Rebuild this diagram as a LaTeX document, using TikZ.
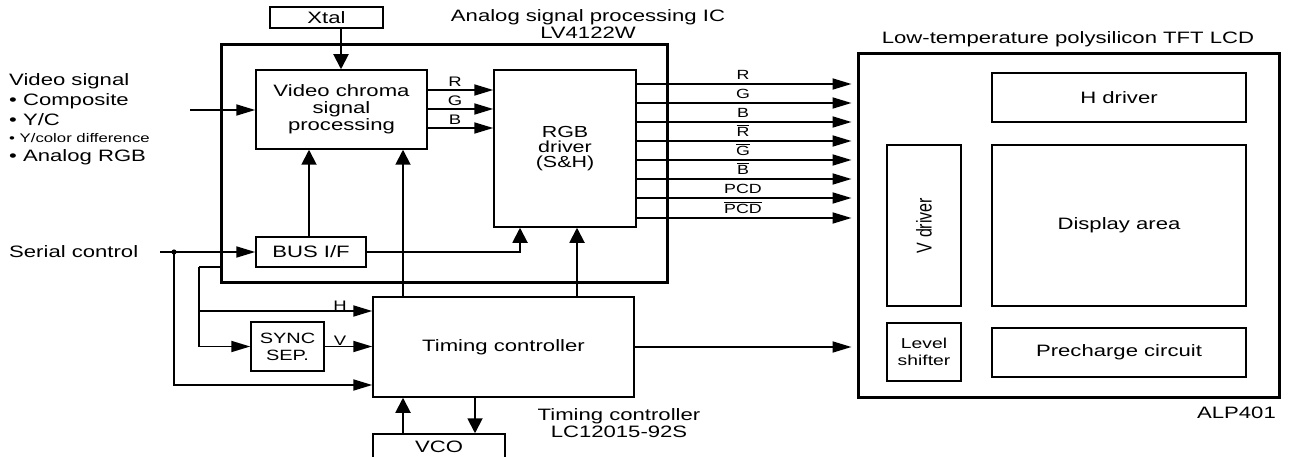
\documentclass[tikz,border=0pt]{standalone}
\usepackage{fontspec}
\setmainfont{Liberation Sans}[FakeStretch=1.34]
\newfontfamily\plainfont{Liberation Sans}
\usetikzlibrary{arrows.meta,calc}
\newcommand\ovl[1]{\vbox{\hrule height 1pt\kern1.6pt\hbox{#1}}}
\tikzset{
  base/.style={font=\fontsize{16.5}{17}\selectfont, align=center, inner sep=0pt},
  box/.style={base, draw, line width=1.5pt},
  big/.style={draw, line width=3pt, inner sep=0pt},
  wire/.style={line width=1.9pt},
  ha/.style={wire, -{Triangle[length=19pt,width=11pt]}},
  va/.style={wire, -{Triangle[length=15pt,width=15pt]}},
  lab/.style={base, font=\fontsize{13.8}{14}\selectfont, anchor=base},
  lbl/.style={base, anchor=base west},
}
\begin{document}
\begin{tikzpicture}[x=1pt,y=-1pt]
\useasboundingbox (0,0) rectangle (1290,457);
% frames
\node[big, minimum width=446pt, minimum height=237pt] (ic) at (444,163.5) {};
\node[big, minimum width=421pt, minimum height=343pt] (lcd) at (1068.5,225.5) {};
% blocks
\node[box, minimum width=113pt, minimum height=21pt] (xtal) at (326.5,17.5) {Xtal};
\node[box, minimum width=171pt, minimum height=79pt] (vcp) at (341.5,109.5) {Video chroma\\signal\\processing};
\node[box, minimum width=142pt, minimum height=157pt, font=\fontsize{16}{15}\selectfont] (rgb) at (565,148.5) {RGB\\driver\\(S\&H)};
\node[box, minimum width=110pt, minimum height=30pt] (bus) at (311,252) {BUS I/F};
\node[box, minimum width=73pt, minimum height=49pt, font=\fontsize{14.9}{17}\selectfont] (sync) at (287.5,346.5) {SYNC\\SEP.};
\node[box, minimum width=261pt, minimum height=100pt] (tc) at (503.5,347) {Timing controller};
\node[box, minimum width=132pt, minimum height=26pt] (vco) at (439,447) {VCO};
\node[box, minimum width=254pt, minimum height=49pt] (hdrv) at (1119,97.5) {H driver};
\node[box, minimum width=254pt, minimum height=161pt] (disp) at (1119,225.5) {Display area};
\node[box, minimum width=74pt, minimum height=161pt, font=\fontsize{16}{17}\selectfont] (vdrv) at (924,225.5) {\rotatebox{90}{\scalebox{1}[1.34]{\plainfont V driver}}};
\node[box, minimum width=74pt, minimum height=58pt, font=\fontsize{14.4}{17}\selectfont] (lvl) at (924,352) {Level\\shifter};
\node[box, minimum width=254pt, minimum height=49pt] (pre) at (1119,352.5) {Precharge circuit};
% texts
\node[base, anchor=base] (t1) at (588,22) {Analog signal processing IC};
\node[base, anchor=base] (t2) at (588,39) {LV4122W};
\node[base, anchor=base] (t3) at (1068,44) {Low-temperature polysilicon TFT LCD};
\node[base, anchor=base east] (t4) at (1276,418) {ALP401};
\node[base, anchor=base] (t5) at (619,420) {Timing controller};
\node[base, anchor=base] (t6) at (619,437) {LC12015-92S};
\node[lbl] (v1) at (9,86) {Video signal};
\node[lbl] (v2) at (9,106) {\textbullet\ Composite};
\node[lbl] (v3) at (9,126) {\textbullet\ Y/C};
\node[lbl, font=\fontsize{12.5}{13}\selectfont] (v4) at (9,143) {\textbullet\ Y/color difference};
\node[lbl] (v5) at (9,162) {\textbullet\ Analog RGB};
\node[lbl] (sct) at (9,257) {Serial control};
% Xtal and video in
\draw[va] (xtal.south -| 341,0) -- (vcp.north -| 341,0);
\coordinate (vin) at (190,110);
\draw[ha] (vin) -- (vin -| vcp.west);
% R G B internal
\foreach \yy/\tt in {90/R,109/G,128/B}{
  \draw[ha] (vcp.east |- 0,\yy) -- (rgb.west |- 0,\yy);
  \node[lab] at (455,\yy-3) {\tt};
}
% outputs
\foreach \yy/\tt in {84/R,103/G,122/B,141/{\ovl{R}},160/{\ovl{G}},179/{\ovl{B}},198/PCD,218/{\ovl{PCD}}}{
  \draw[ha, shorten >=5pt] (rgb.east |- 0,\yy) -- (lcd.west |- 0,\yy);
  \node[lab, font=\fontsize{13.3}{14}\selectfont] at (743,\yy-4) {\tt};
}
% serial control
\coordinate (sc) at (160,252);
\coordinate (dot) at (174,252);
\draw[ha] (sc) -- (bus.west);
\fill (dot) circle (2.6pt);
\draw[ha] (dot) |- (tc.west |- 0,385);
\draw[va] (bus.north -| 309,0) -- (vcp.south -| 309,0);
\draw[va] (bus.east) -| (rgb.south -| 520,0);
% timing controller up
\draw[va] (tc.north -| 403,0) -- (vcp.south -| 403,0);
\draw[va] (tc.north -| 577,0) -- (rgb.south -| 577,0);
% IC out to sync / H
\coordinate (icout) at (ic.west |- 0,267);
\coordinate (hv) at (199,267);
\draw[wire] (icout) -- (hv);
\draw[ha] (hv) |- (sync.west);
\draw[ha] (hv |- 0,311) -- (tc.west |- 0,311);
\node[lab] (hl) at (340,310) {H};
\draw[ha] (sync.east) -- (sync.east -| tc.west);
\node[lab] (vl) at (340,345) {V};
% TC to LCD
\draw[ha, shorten >=5pt] (tc.east) -- (tc.east -| lcd.west);
% VCO
\draw[va] (vco.north -| 403,0) -- (tc.south -| 403,0);
\draw[va] (tc.south -| 475,0) -- (vco.north -| 475,0);
\end{tikzpicture}
\end{document}
